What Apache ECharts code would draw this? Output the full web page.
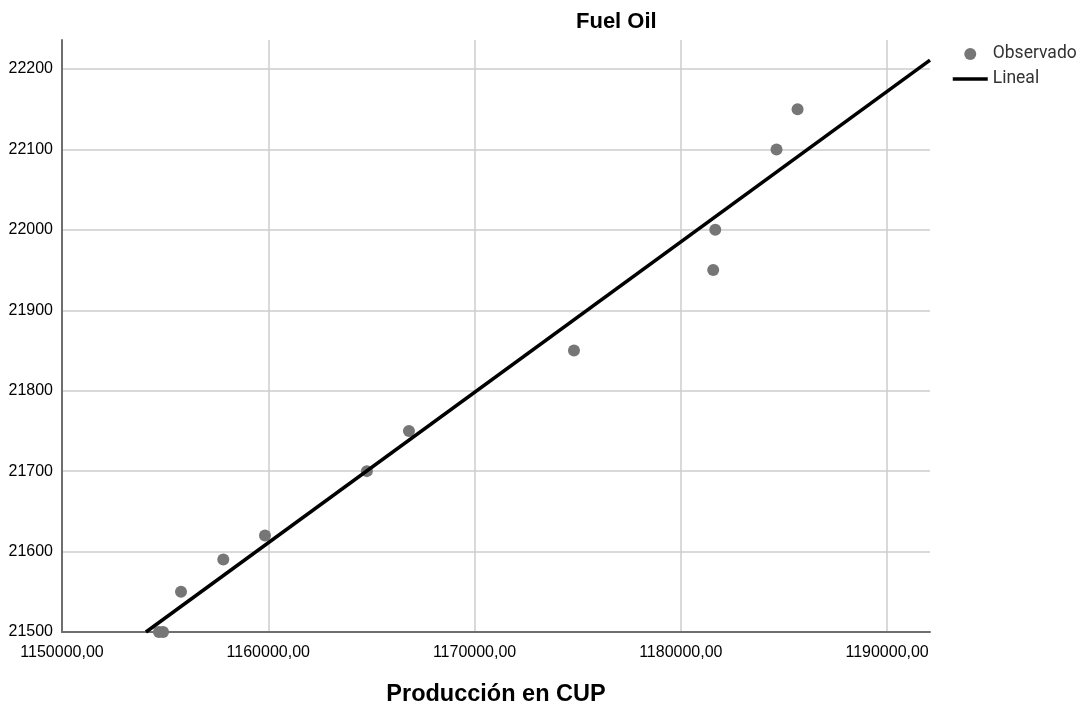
<!DOCTYPE html>
<html>
<head>
<meta charset="utf-8">
<script src="https://cdn.jsdelivr.net/npm/echarts@6/dist/echarts.min.js"></script>
<style>
html,body{margin:0;padding:0;background:#fff;}
#chart{width:1083px;height:704px;}
</style>
</head>
<body>
<div id="chart"></div>
<script>
// Observed values: [Producción en CUP, Fuel Oil]
const observedX = [1154700, 1154900, 1155770, 1157820, 1159840, 1164780, 1166820, 1174820, 1181570, 1181670, 1184640, 1185660];
const observedY = [21500, 21500, 21550, 21590, 21620, 21700, 21750, 21850, 21950, 22000, 22100, 22150];
// Linear fit endpoints
const fitX = [1154070, 1192080];
const fitY = [21500, 22211];
const xTicks = { min: 1150000, max: 1192080, step: 10000 };
const yTicks = { min: 21500, max: 22236, step: 100 };

const font = '"Liberation Sans", Arial, sans-serif';
const chart = echarts.init(document.getElementById('chart'), null, { renderer: 'canvas' });
chart.setOption({
  animation: false,
  backgroundColor: '#ffffff',
  title: {
    text: 'Fuel Oil',
    left: 571, top: 6,
    textStyle: { fontFamily: font, fontSize: 22, fontWeight: 'bold', color: '#000' }
  },
  legend: {
    orient: 'vertical',
    left: 951, top: 45,
    padding: 0,
    itemWidth: 35, itemHeight: 12, itemGap: 7,
    textStyle: { fontFamily: 'Roboto, sans-serif', fontSize: 17.5, color: '#333' },
    data: [
      { name: 'Observado' },
      { name: 'Lineal', itemStyle: { color: 'rgba(0,0,0,0)', borderWidth: 0 }, lineStyle: { width: 3.5, color: '#000' } }
    ]
  },
  grid: { left: 62, right: 153, top: 40, bottom: 72, containLabel: false, outerBoundsMode: 'none' },
  xAxis: {
    type: 'value',
    min: xTicks.min, max: xTicks.max, interval: xTicks.step,
    name: 'Producción en CUP',
    nameLocation: 'middle', nameGap: 51,
    nameTextStyle: { fontFamily: font, fontSize: 23.5, fontWeight: 'bold', color: '#000' },
    axisLine: { show: true, lineStyle: { color: '#6e6e6e', width: 2 } },
    axisTick: { show: false },
    axisLabel: {
      fontFamily: font, fontSize: 16, color: '#000', margin: 13,
      showMaxLabel: false,
      formatter: v => String(v) + ',00'
    },
    splitLine: { show: true, showMinLine: false, showMaxLine: false, lineStyle: { color: '#cccccc', width: 1.5 } }
  },
  yAxis: {
    type: 'value',
    min: yTicks.min, max: yTicks.max, interval: yTicks.step,
    axisLine: { show: true, lineStyle: { color: '#6e6e6e', width: 2 } },
    axisTick: { show: false },
    axisLabel: {
      fontFamily: font, fontSize: 16, color: '#000', margin: 9,
      padding: [6, 0, 0, 0],
      showMaxLabel: false,
      formatter: v => String(v)
    },
    splitLine: { show: true, showMinLine: false, showMaxLine: false, lineStyle: { color: '#cccccc', width: 1.5 } }
  },
  series: [
    {
      name: 'Observado',
      type: 'scatter',
      symbol: 'circle',
      symbolSize: 12,
      itemStyle: { color: '#767676', opacity: 1 },
      data: observedX.map((x, i) => [x, observedY[i]]),
      z: 3
    },
    {
      name: 'Lineal',
      type: 'line',
      symbol: 'none',
      lineStyle: { color: '#000', width: 3.5 },
      itemStyle: { color: '#000' },
      data: fitX.map((x, i) => [x, fitY[i]]),
      z: 4
    }
  ]
});
</script>
</body>
</html>
